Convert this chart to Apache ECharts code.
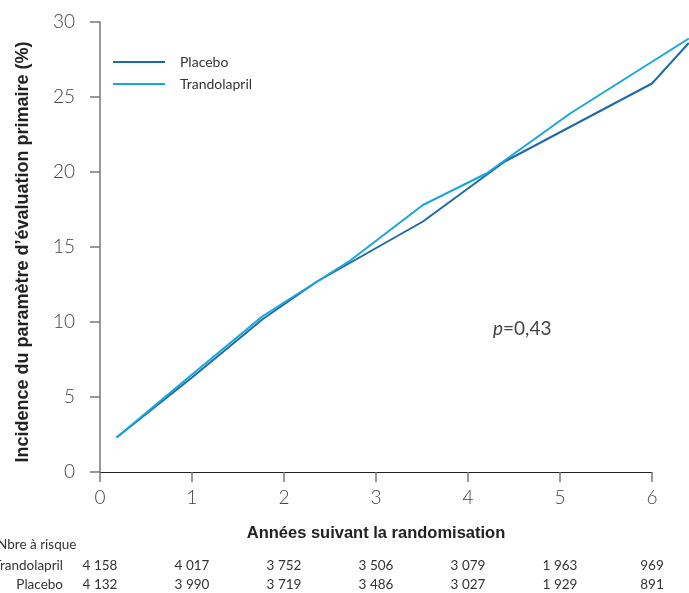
<!DOCTYPE html>
<html><head><meta charset="utf-8">
<script src="https://cdn.jsdelivr.net/npm/echarts@6/dist/echarts.min.js"></script>
<style>html,body{margin:0;padding:0;background:#fff}#c{width:689px;height:593px}</style>
</head><body><div id="c"></div>
<script>
const placebo = [[0.18,2.3],[1.0,6.3],[1.77,10.2],[2.36,12.7],[3.51,16.7],[4.4,20.7],[6.0,25.9],[6.4,28.6]];
const trandolapril = [[0.18,2.3],[1.0,6.5],[1.77,10.4],[2.36,12.7],[2.72,14.1],[3.51,17.8],[4.2,19.9],[5.11,23.9],[6.4,28.9]];
const riskTrandolapril = ['4 158','4 017','3 752','3 506','3 079','1 963','969'];
const riskPlacebo = ['4 132','3 990','3 719','3 486','3 027','1 929','891'];
const xTicks = [0,1,2,3,4,5,6];
const yTicks = [0,5,10,15,20,25,30];

const chart = echarts.init(document.getElementById('c'), null, {renderer:'canvas'});
const tickFont = {fontFamily:'Lato', fontWeight:300, fontSize:19, color:'#444'};
const riskAxis = (arr, off) => ({
  type:'value', gridIndex:1, min:0, max:6, interval:1, position:'bottom', offset:off,
  axisLine:{show:false}, axisTick:{show:false}, splitLine:{show:false},
  axisLabel:{margin:0, fontFamily:'Lato', fontSize:13.5, color:'#333', verticalAlign:'top',
    showMinLabel:true, showMaxLabel:true, formatter:v => arr[Math.round(v)]}
});
// grid 0 holds the lines (extends to the right edge, same px per year); grid 1 holds the visible x axis 0-6
const pxPerYear = 92, gridLeft = 100, visRight = 37, W = 689;
const dataMax = (W - gridLeft) / pxPerYear;
chart.setOption({
  animation:false,
  grid:[{left:gridLeft, right:0, top:22, bottom:121},{left:gridLeft, right:visRight, top:22, bottom:121}],
  legend:{orient:'vertical', left:108, top:50, icon:'rect', itemWidth:52, itemHeight:2, itemGap:8,
    textStyle:{fontFamily:'Lato', fontSize:14, lineHeight:14, color:'#333', padding:[0,0,0,10]},
    data:['Placebo','Trandolapril']},
  xAxis:[{
    type:'value', gridIndex:0, min:0, max:dataMax, show:false
  },{
    type:'value', gridIndex:1, min:0, max:6, interval:1, offset:7,
    axisLine:{lineStyle:{color:'#222', width:1.2}},
    axisTick:{show:true, length:10, inside:false, lineStyle:{color:'#777', width:1.5}},
    splitLine:{show:false},
    axisLabel:Object.assign({margin:9, formatter:v => String(v)}, tickFont),
    name:'Années suivant la randomisation', nameLocation:'middle', nameGap:46,
    nameTextStyle:{fontFamily:'Liberation Sans', fontWeight:'bold', fontSize:16.5, color:'#222'}
  }, riskAxis(riskTrandolapril, 87), riskAxis(riskPlacebo, 106)],
  yAxis:[{
    type:'value', gridIndex:0, min:0, max:30, interval:5, offset:10,
    axisLine:{show:true, lineStyle:{color:'#777', width:1.5}},
    axisTick:{show:true, length:10, lineStyle:{color:'#777', width:1.5}},
    splitLine:{show:false},
    axisLabel:Object.assign({margin:15}, tickFont),
    name:'Incidence du paramètre d\u2019évaluation primaire (%)', nameLocation:'middle', nameGap:58,
    nameTextStyle:{fontFamily:'Liberation Sans', fontWeight:'bold', fontSize:18, color:'#222', padding:[0,0,0,-10]}
  },{
    type:'value', gridIndex:1, min:0, max:30, show:false
  }],
  series:[
    {name:'Placebo', type:'line', xAxisIndex:0, yAxisIndex:0, data:placebo, symbol:'none',
      lineStyle:{color:'#1d6aab', width:2}, itemStyle:{color:'#1d6aab'}},
    {name:'Trandolapril', type:'line', xAxisIndex:0, yAxisIndex:0, data:trandolapril, symbol:'none',
      lineStyle:{color:'#17a7d8', width:2}, itemStyle:{color:'#17a7d8'}}
  ],
  graphic:[
    {type:'text', left:-3, top:538, style:{text:'Nbre à risque', font:'13.5px Lato', fill:'#333'}},
    {type:'text', x:63, y:559, style:{text:'Trandolapril', font:'13.5px Lato', fill:'#333', align:'right', verticalAlign:'top'}},
    {type:'text', x:63, y:578, style:{text:'Placebo', font:'13.5px Lato', fill:'#333', align:'right', verticalAlign:'top'}},
    {type:'text', left:493, top:319, style:{text:'{i|p}=0,43', font:'19px Lato', fill:'#444',
      rich:{i:{fontStyle:'italic', fontFamily:'Lato', fontSize:19, fill:'#444'}}}}
  ]
});
</script></body></html>
